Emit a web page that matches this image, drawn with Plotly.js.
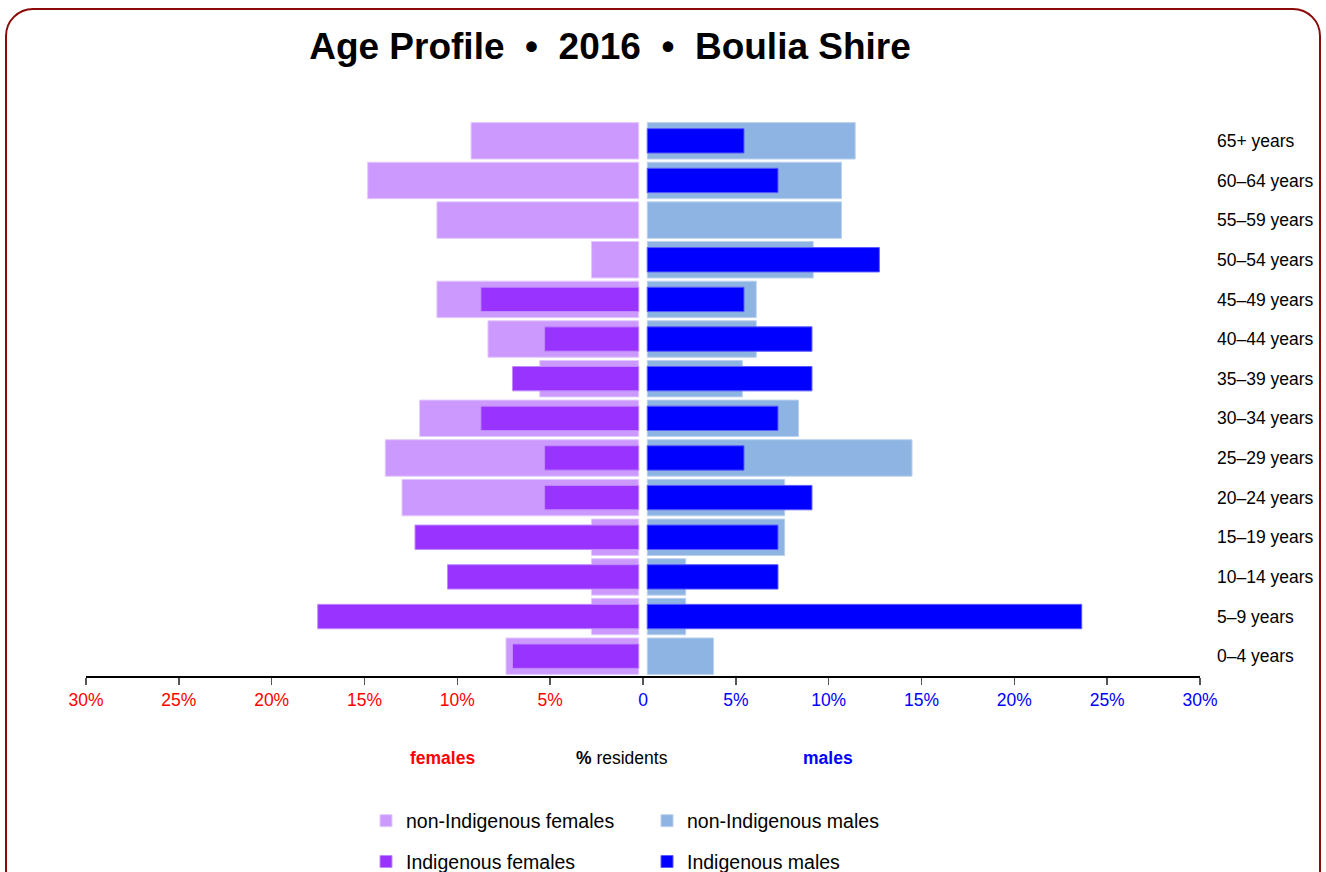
<!DOCTYPE html>
<html>
<head>
<meta charset="utf-8">
<script src="https://cdn.plot.ly/plotly-3.0.1.min.js"></script>
<style>
  html, body { margin:0; padding:0; background:#fff; width:1326px; height:872px; overflow:hidden; }
  #frame { position:absolute; left:5px; top:8px; width:1316px; height:920px; border:2.5px solid #8b0a0a; border-radius:28px; box-sizing:border-box; }
  #chart { position:absolute; left:0; top:0; width:1326px; height:872px; }
</style>
</head>
<body>
<div id="frame"></div>
<div id="chart"></div>
<script>
// Age groups, bottom to top
var ageGroups = ['0–4 years','5–9 years','10–14 years','15–19 years','20–24 years','25–29 years','30–34 years','35–39 years','40–44 years','45–49 years','50–54 years','55–59 years','60–64 years','65+ years'];

// % of residents
var nonIndigenousFemales = [7.15, 2.54, 2.54, 2.54, 12.75, 13.65, 11.8, 5.33, 8.12, 10.87, 2.54, 10.87, 14.6, 9.03];
var indigenousFemales    = [6.8, 17.29, 10.3, 12.05, 5.07, 5.07, 8.5, 6.8, 5.07, 8.5, null, null, null, null];
var nonIndigenousMales   = [3.57, 2.07, 2.07, 7.4, 7.4, 14.26, 8.15, 5.12, 5.87, 5.87, 8.94, 10.46, 10.46, 11.2];
var indigenousMales      = [null, 23.4, 7.04, 7.04, 8.87, 5.21, 7.04, 8.87, 8.87, 5.21, 12.5, null, 7.04, 5.21];

var tickValues = [-30, -25, -20, -15, -10, -5, 0, 5, 10, 15, 20, 25, 30];
var tickLabels = ['30%','25%','20%','15%','10%','5%','0','5%','10%','15%','20%','25%','30%'];

var FONT = 'Liberation Sans, Arial, Helvetica, sans-serif';
var GAP = 0.23; // half-gap around the centre line, in % units

function neg(a){ return a.map(function(v){ return v === null ? null : -v; }); }

var traces = [
  { type:'bar', orientation:'h', name:'non-Indigenous females', y:ageGroups, x:neg(nonIndigenousFemales), base:-GAP,
    width:0.92, marker:{color:'#cc99ff', line:{color:'#e2c9ff', width:1}}, legend:'legend', legendgroup:'a' },
  { type:'bar', orientation:'h', name:'non-Indigenous males', y:ageGroups, x:nonIndigenousMales, base:GAP,
    width:0.92, marker:{color:'#8eb4e3', line:{color:'#bcd2ee', width:1}}, legend:'legend2', legendgroup:'b' },
  { type:'bar', orientation:'h', name:'Indigenous females', y:ageGroups, x:neg(indigenousFemales), base:-GAP,
    width:0.615, marker:{color:'#9933ff', line:{color:'#c08aff', width:1}}, legend:'legend', legendgroup:'c' },
  { type:'bar', orientation:'h', name:'Indigenous males', y:ageGroups, x:indigenousMales, base:GAP,
    width:0.615, marker:{color:'#0000ff', line:{color:'#5a5aff', width:1}}, legend:'legend2', legendgroup:'d' }
];

var ticktext = tickLabels.map(function(t, i){
  var c = tickValues[i] < 0 ? '#ff0000' : '#0000ff';
  return '<span style="color:' + c + '">' + t + '</span>';
});

var H = 872, W = 1326;
var plotTop = 121.3, plotBottom = 675.7, plotLeft = 86, plotRight = 1200;
function px2paperX(px){ return (px - plotLeft) / (plotRight - plotLeft); }
function px2paperY(py){ return (plotBottom - py) / (plotBottom - plotTop); }

var layout = {
  width: W, height: H,
  paper_bgcolor: 'rgba(0,0,0,0)', plot_bgcolor: 'rgba(0,0,0,0)',
  margin: { l: plotLeft, r: W - plotRight, t: plotTop, b: H - plotBottom, autoexpand: false },
  font: { family: FONT, size: 17, color: '#000' },
  barmode: 'overlay',
  showlegend: true,
  title: {
    text: '<b>Age Profile\u00a0\u00a0•\u00a0\u00a02016\u00a0\u00a0•\u00a0\u00a0Boulia Shire</b>',
    font: { family: FONT, size: 37, color: '#000' },
    xref: 'container', x: 610 / W, xanchor: 'center',
    yref: 'container', y: 1 - 46 / H, yanchor: 'middle'
  },
  xaxis: {
    range: [-30, 30], tickvals: tickValues, ticktext: ticktext,
    showgrid: false, zeroline: false,
    showline: true, linecolor: '#000', linewidth: 1.5,
    ticks: 'outside', ticklen: 7, tickwidth: 1.5, tickcolor: '#555',
    tickfont: { family: FONT, size: 17.5 }, fixedrange: true
  },
  yaxis: {
    type: 'category', categoryorder: 'array', categoryarray: ageGroups,
    range: [-0.5, 13.5], side: 'right', showline: false, showgrid: false, zeroline: false,
    ticks: '', ticklabelstandoff: 16,
    tickfont: { family: FONT, size: 17.5, color: '#000' }, fixedrange: true
  },
  legend: {
    xref: 'container', yref: 'container', x: 366 / W, y: 1 - 801.5 / H, xanchor: 'left', yanchor: 'top',
    orientation: 'v', traceorder: 'grouped', tracegroupgap: 12.5,
    font: { family: FONT, size: 19.5, color: '#000' }, bgcolor: 'rgba(0,0,0,0)', borderwidth: 0
  },
  legend2: {
    xref: 'container', yref: 'container', x: 647 / W, y: 1 - 801.5 / H, xanchor: 'left', yanchor: 'top',
    orientation: 'v', traceorder: 'grouped', tracegroupgap: 12.5,
    font: { family: FONT, size: 19.5, color: '#000' }, bgcolor: 'rgba(0,0,0,0)', borderwidth: 0
  },
  annotations: [
    { xref: 'paper', yref: 'paper', x: px2paperX(442), y: px2paperY(758), text: '<b>females</b>',
      showarrow: false, font: { family: FONT, size: 17.5, color: '#ff0000' }, xanchor: 'center', yanchor: 'middle' },
    { xref: 'paper', yref: 'paper', x: px2paperX(622), y: px2paperY(758), text: '<b>%</b> residents',
      showarrow: false, font: { family: FONT, size: 17.5, color: '#000' }, xanchor: 'center', yanchor: 'middle' },
    { xref: 'paper', yref: 'paper', x: px2paperX(828), y: px2paperY(758), text: '<b>males</b>',
      showarrow: false, font: { family: FONT, size: 17.5, color: '#0000ff' }, xanchor: 'center', yanchor: 'middle' }
  ]
};

Plotly.newPlot('chart', traces, layout, { staticPlot: true, displayModeBar: false });
</script>
</body>
</html>
